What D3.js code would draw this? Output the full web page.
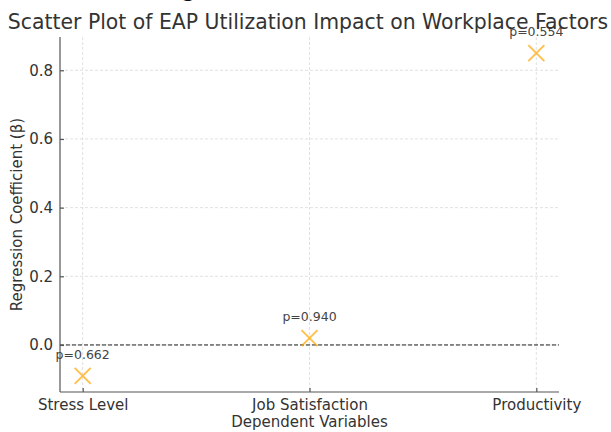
<!DOCTYPE html>
<html>
<head>
<meta charset="utf-8">
<title>EAP scatter</title>
<style>
    body { margin: 0; background: #fff; }
    text { font-family: "DejaVu Sans", sans-serif; fill: #333; }
    .grid line { stroke: #d9d9d9; stroke-dasharray: 3,2; stroke-width: 0.8; }
    .axis path, .axis line { stroke: #555; stroke-width: 1.2; }
    .axis text { font-size: 15px; fill: #333; }
</style>
</head>
<body>
<script src="https://cdnjs.cloudflare.com/ajax/libs/d3/7.8.5/d3.min.js"></script>
<script>

var categories = ['Stress Level', 'Job Satisfaction', 'Productivity'],
    betas = [-0.09, 0.02, 0.85],
    pValues = ['0.662', '0.940', '0.554'],
    yTicks = [0.0, 0.2, 0.4, 0.6, 0.8]

var width = 611,
    height = 432,
    plotLeft = 60, plotRight = 559, plotTop = 37, plotBottom = 392

var svg = d3.select('body').append('svg')
    .attr('width', width)
    .attr('height', height)

var x = d3.scalePoint().domain(categories).range([plotLeft, plotRight]).padding(0.1)
var y = d3.scaleLinear().domain([-0.137, 0.897]).range([plotBottom, plotTop])

var data = categories.map(function(c, i){
    return {cat: c, beta: betas[i], p: pValues[i]}
})

// grid
svg.append('g').attr('class', 'grid')
    .selectAll('line').data(yTicks).enter().append('line')
    .attr('x1', plotLeft).attr('x2', plotRight)
    .attr('y1', function(d){ return y(d) }).attr('y2', function(d){ return y(d) })
svg.append('g').attr('class', 'grid')
    .selectAll('line').data(categories).enter().append('line')
    .attr('y1', plotTop).attr('y2', plotBottom)
    .attr('x1', function(d){ return x(d) }).attr('x2', function(d){ return x(d) })

// zero line
svg.append('line')
    .attr('x1', plotLeft).attr('x2', plotRight)
    .attr('y1', y(0)).attr('y2', y(0))
    .attr('stroke', '#222').attr('stroke-width', 1)
    .attr('stroke-dasharray', '4,2')

// axes, ticks pointing inward
svg.append('g').attr('class', 'axis')
    .attr('transform', 'translate(0,' + plotBottom + ')')
    .call(d3.axisBottom(x).tickSizeInner(-4).tickSizeOuter(0).tickPadding(7))
    .select('.domain').attr('d', 'M' + plotLeft + ',0H' + plotRight)

svg.append('g').attr('class', 'axis')
    .attr('transform', 'translate(' + plotLeft + ',0)')
    .call(d3.axisLeft(y).tickValues(yTicks).tickFormat(d3.format('.1f'))
        .tickSizeInner(-4).tickSizeOuter(0).tickPadding(7))
    .select('.domain').attr('d', 'M0,' + plotTop + 'V' + plotBottom)

// markers
var s = 8
var pts = svg.append('g').selectAll('g').data(data).enter().append('g')
    .attr('transform', function(d){ return 'translate(' + x(d.cat) + ',' + y(d.beta) + ')' })
pts.append('path')
    .attr('d', 'M' + (-s) + ',' + (-s) + 'L' + s + ',' + s + 'M' + (-s) + ',' + s + 'L' + s + ',' + (-s))
    .attr('stroke', '#ffa500').attr('stroke-opacity', 0.7).attr('stroke-width', 2)
    .attr('fill', 'none')

// p-value labels
svg.append('g').selectAll('text').data(data).enter().append('text')
    .attr('x', function(d){ return x(d.cat) })
    .attr('y', function(d){ return y(d.beta) - 17 })
    .attr('text-anchor', 'middle')
    .style('font-size', '12.5px')
    .style('fill', '#444')
    .text(function(d){ return 'p=' + d.p })

// titles
svg.append('text')
    .attr('x', 308).attr('y', 29)
    .attr('text-anchor', 'middle')
    .style('font-size', '20.4px')
    .text('Scatter Plot of EAP Utilization Impact on Workplace Factors')

svg.append('text')
    .attr('x', (plotLeft + plotRight) / 2).attr('y', 427)
    .attr('text-anchor', 'middle')
    .style('font-size', '15px')
    .text('Dependent Variables')

svg.append('text')
    .attr('transform', 'translate(22,' + ((plotTop + plotBottom) / 2) + ') rotate(-90)')
    .attr('text-anchor', 'middle')
    .style('font-size', '15px')
    .text('Regression Coefficient (β)')

// cut-off heading glyph at the very top
svg.append('text')
    .attr('x', 188).attr('y', -4)
    .attr('text-anchor', 'middle')
    .style('font-family', '"Liberation Serif", serif')
    .style('font-weight', 'bold')
    .style('font-size', '24px')
    .style('fill', '#111')
    .text('g')

</script>
</body>
</html>
